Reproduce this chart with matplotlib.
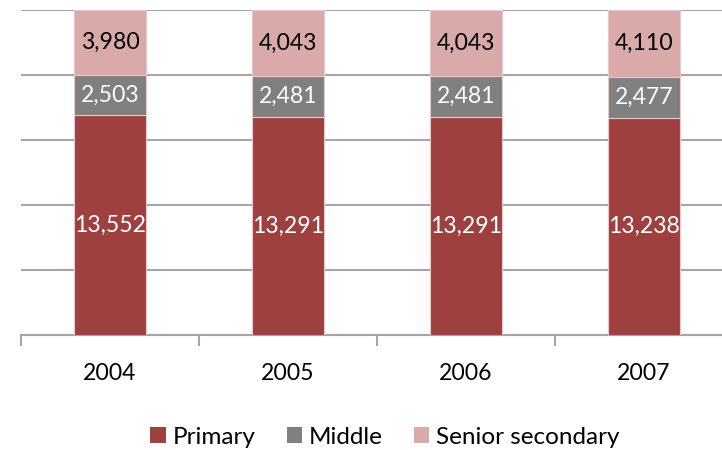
import matplotlib
matplotlib.use("Agg")
import matplotlib.pyplot as plt
from matplotlib.patches import Patch

years = ["2004", "2005", "2006", "2007"]
primary = [13552, 13291, 13291, 13238]
middle = [2503, 2481, 2481, 2477]
senior = [3980, 4043, 4043, 4110]
series_names = ["Primary", "Middle", "Senior secondary"]

colors = ["#9E4040", "#808080", "#DAA9A9"]
label_colors = ["white", "white", "black"]

plt.rcParams['font.family'] = ['Lato', 'DejaVu Sans']
fs = 16.6
lfs = 17.5

fig = plt.figure(figsize=(7.22, 4.5), dpi=100)
ax = fig.add_axes([21/722, 115/450, 712/722, 325/450])

totals = [p + m + s for p, m, s in zip(primary, middle, senior)]
x = list(range(len(years)))
bottoms = [0.0]*len(years)
for vals, c, lc, name in zip([primary, middle, senior], colors, label_colors, series_names):
    fr = [v / t for v, t in zip(vals, totals)]
    ax.bar(x, fr, width=0.4, bottom=bottoms, color=c, edgecolor="#E8C8C8",
           linewidth=0.8, zorder=3, label=name)
    for xi, v, f, b in zip(x, vals, fr, bottoms):
        ax.text(xi, b + f/2, f"{v:,}", ha="center", va="center", color=lc,
                fontsize=fs, zorder=4)
    bottoms = [b + f for b, f in zip(bottoms, fr)]

ax.set_xlim(-0.5, 3.5)
ax.set_ylim(0, 1)
ax.set_yticks([0, 0.2, 0.4, 0.6, 0.8, 1.0])
ax.yaxis.grid(True, color="#A6A6A6", linewidth=1.5, zorder=0)
ax.tick_params(axis='y', left=False, labelleft=False)
for s in ["left", "right", "top"]:
    ax.spines[s].set_visible(False)
ax.spines["bottom"].set_color("#A6A6A6")
ax.spines["bottom"].set_linewidth(1.5)
ax.set_xticks([-0.5, 0.5, 1.5, 2.5, 3.5])
ax.set_xticklabels([])
ax.tick_params(axis='x', which='major', length=8, width=1.5, color="#A6A6A6")
ax.set_xticks(x, minor=True)
ax.set_xticklabels(years, minor=True, fontsize=fs)
ax.tick_params(axis='x', which='minor', length=0, pad=20)

handles = [Patch(facecolor=c, edgecolor='none') for c in colors]
fig.legend(handles, series_names, loc="center", bbox_to_anchor=(385/722, 1-437/450),
           ncol=3, frameon=False, fontsize=lfs, handlelength=0.62, handleheight=0.62,
           handletextpad=0.28, columnspacing=1.3)

fig.savefig("out.png", dpi=100)
